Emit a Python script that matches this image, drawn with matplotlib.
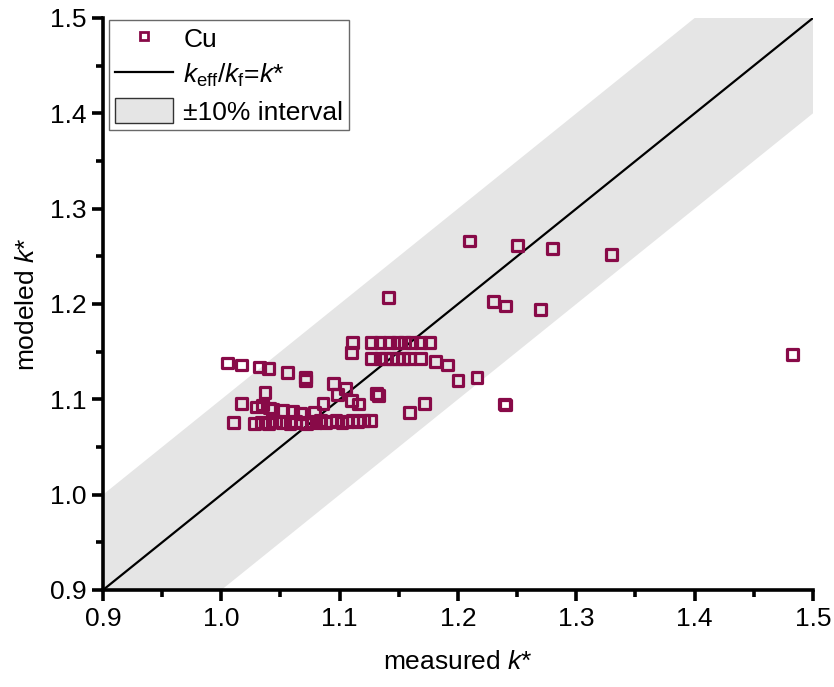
import numpy as np
import matplotlib
matplotlib.use("Agg")
import matplotlib.pyplot as plt
from matplotlib.patches import Patch
from matplotlib.lines import Line2D

plt.rcParams['font.family'] = ['Liberation Sans', 'DejaVu Sans']
plt.rcParams['mathtext.fontset'] = 'custom'
plt.rcParams['mathtext.rm'] = 'Liberation Sans'
plt.rcParams['mathtext.it'] = 'Liberation Sans:italic'

# Cu data: measured k* vs modeled k*
measured = [
    1.005, 1.017, 1.032, 1.040, 1.056, 1.071, 1.071,
    1.095, 1.105, 1.098, 1.110, 1.116, 1.086,
    1.017, 1.037, 1.030, 1.035, 1.041, 1.043, 1.010,
    1.052, 1.060, 1.067, 1.079,
    1.028, 1.034, 1.040, 1.046, 1.052, 1.058, 1.063, 1.068, 1.072, 1.076,
    1.080, 1.084, 1.088, 1.092, 1.097, 1.102, 1.107, 1.111, 1.115, 1.120, 1.126,
    1.111, 1.110,
    1.127, 1.134, 1.142, 1.149, 1.155, 1.161, 1.168, 1.176,
    1.127, 1.134, 1.139, 1.144, 1.149, 1.154, 1.159, 1.168,
    1.181, 1.191, 1.200, 1.216, 1.131, 1.133,
    1.172, 1.159, 1.239, 1.240,
    1.210, 1.250, 1.280, 1.330, 1.141, 1.230, 1.240, 1.270, 1.483,
]
modeled = [
    1.138, 1.136, 1.134, 1.132, 1.128, 1.123, 1.120,
    1.117, 1.111, 1.105, 1.099, 1.095, 1.096,
    1.096, 1.107, 1.092, 1.094, 1.091, 1.089, 1.076,
    1.088, 1.087, 1.085, 1.086,
    1.075, 1.076, 1.075, 1.077, 1.076, 1.075, 1.077, 1.076, 1.075, 1.077,
    1.076, 1.078, 1.076, 1.077, 1.078, 1.076, 1.077, 1.078, 1.077, 1.078, 1.078,
    1.160, 1.149,
    1.160, 1.160, 1.160, 1.160, 1.160, 1.160, 1.160, 1.160,
    1.143, 1.143, 1.143, 1.143, 1.143, 1.143, 1.143, 1.143,
    1.140, 1.136, 1.120, 1.123, 1.106, 1.104,
    1.096, 1.086, 1.095, 1.094,
    1.266, 1.261, 1.258, 1.252, 1.207, 1.203, 1.198, 1.194, 1.147,
]

line_x = [0.9, 1.5]
band = 0.1

fig = plt.figure(figsize=(8.34, 6.87), dpi=100)
ax = fig.add_axes([0.1235, 0.1412, 0.8513, 0.8326])

xx = np.array(line_x)
ax.fill_between(xx, xx - band, xx + band, color='#e5e5e5', lw=0, zorder=1)
ax.plot(xx, xx, color='black', lw=1.6, zorder=2)
ax.scatter(measured, modeled, marker='s', s=60, facecolors='none',
           edgecolors='#880a48', linewidths=2.3, zorder=3)

ax.set_xlim(0.9, 1.5)
ax.set_ylim(0.9, 1.5)
ax.set_xticks(np.arange(0.9, 1.51, 0.1))
ax.set_yticks(np.arange(0.9, 1.51, 0.1))
ax.set_xticks(np.arange(0.95, 1.5, 0.1), minor=True)
ax.set_yticks(np.arange(0.95, 1.5, 0.1), minor=True)
ax.xaxis.set_major_formatter(plt.FormatStrFormatter('%.1f'))
ax.yaxis.set_major_formatter(plt.FormatStrFormatter('%.1f'))

for s in ['top', 'right']:
    ax.spines[s].set_visible(False)
for s in ['left', 'bottom']:
    ax.spines[s].set_linewidth(2.6)
ax.tick_params(which='major', direction='out', length=8, width=2.6,
               labelsize=19, pad=4)
ax.tick_params(which='minor', direction='out', length=5, width=2.6)

ax.set_xlabel('measured $k$*', fontsize=19, labelpad=14)
ax.set_ylabel('modeled $k$*', fontsize=19, labelpad=8)

handles = [
    Line2D([], [], marker='s', ls='none', markerfacecolor='none',
           markeredgecolor='#880a48', markeredgewidth=2, markersize=6),
    Line2D([], [], color='black', lw=1.6),
    Patch(facecolor='#e5e5e5', edgecolor='#333333', lw=1),
]
labels = ['Cu', r'$k_{\rm eff}/k_{\rm f}$=$k$*', '±10% interval']
leg = ax.legend(handles, labels, loc='upper left', bbox_to_anchor=(0.009, 0.997),
                fontsize=19, frameon=True, fancybox=False, borderpad=0.2,
                handlelength=2.2, handleheight=1.1, handletextpad=0.4,
                labelspacing=0.35, borderaxespad=0.0)
leg.get_frame().set_edgecolor('#444444')
leg.get_frame().set_linewidth(1.0)

fig.savefig('out.png', dpi=100)
